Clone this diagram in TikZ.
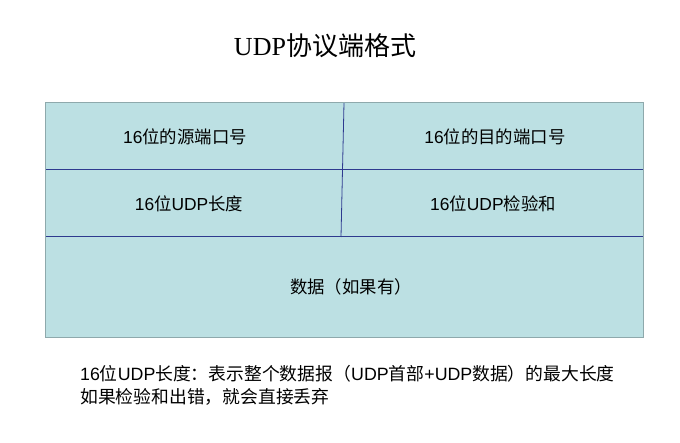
\documentclass[tikz,border=0pt]{standalone}
\usepackage{fontspec}
\setmainfont{Liberation Sans}
\newfontfamily\cjk{Noto Sans CJK SC}
\newfontfamily\titlelat{Liberation Serif}
\definecolor{cellfill}{HTML}{BCE0E3}
\definecolor{outerline}{HTML}{8EA9AC}
\definecolor{innerline}{HTML}{2E3A8F}
\begin{document}
\begin{tikzpicture}[x=1pt,y=1pt,
  celltext/.style={font=\fontsize{17.4}{20}\selectfont, text=black, inner sep=0pt},
  inner/.style={draw=innerline, line width=1pt}]
\useasboundingbox (0,0) rectangle (680,442);
% coordinates (y = 442 - pixel y)
\coordinate (tl) at (45,339);
\coordinate (br) at (643,104);
\coordinate (l1) at (45,272);
\coordinate (r1) at (643,272);
\coordinate (l2) at (45,205);
\coordinate (r2) at (643,205);
\coordinate (vt) at (344,339);
\coordinate (vb) at (341,205);
\fill[cellfill] (tl) rectangle (br);
\draw[inner] (l1) -- (r1);
\draw[inner] (l2) -- (r2);
\draw[inner, line width=0.8pt] (vt) -- (vb);
\draw[outerline, line width=1pt] (tl) rectangle (br);
% title
\node[anchor=base, font=\fontsize{26}{30}\selectfont, inner sep=0pt] (title) at (325,386)
  {{\titlelat UDP}{\cjk 协议端格式}};
% cells
\node[celltext] (c1) at (185,305) {16{\cjk 位的源端口号}};
\node[celltext] (c2) at (495,305) {16{\cjk 位的目的端口号}};
\node[celltext] (c3) at (189,238) {16{\cjk 位}UDP{\cjk 长度}};
\node[celltext] (c4) at (493,238) {16{\cjk 位}UDP{\cjk 检验和}};
\node[celltext] (c5) at (351,155) {{\cjk 数据（如果有）}};
% note
\node[anchor=north west, align=left, inner sep=0pt,
  font=\fontsize{17.8}{23}\selectfont] (note) at (80,77)
  {16{\cjk 位}UDP{\cjk 长度：表示整个数据报（}UDP{\cjk 首部}+UDP{\cjk 数据）的最大长度}\\
   {\cjk 如果检验和出错，就会直接丢弃}};
\end{tikzpicture}
\end{document}
